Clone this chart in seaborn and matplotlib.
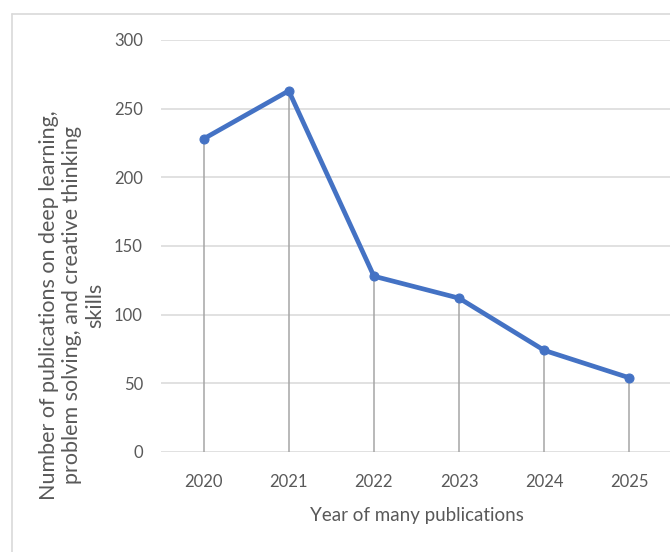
import matplotlib
matplotlib.use("Agg")
import matplotlib.pyplot as plt
from matplotlib.lines import Line2D
import seaborn as sns
import pandas as pd

years = ["2020", "2021", "2022", "2023", "2024", "2025"]
publications = [228, 263, 128, 112, 74, 54]
y_ticks = [0, 50, 100, 150, 200, 250, 300]

sns.set_theme(style="white")
plt.rcParams["font.family"] = ["Lato", "DejaVu Sans"]

W, H = 670, 552
fig = plt.figure(figsize=(W / 100, H / 100), dpi=100)
fig.patch.set_facecolor("white")

left, right, top, bottom = 161, 672, 40, 452
ax = fig.add_axes([left / W, (H - bottom) / H, (right - left) / W, (bottom - top) / H])

df = pd.DataFrame({"pos": range(len(years)), "year": years, "pubs": publications})

ax.vlines(df["pos"], 0, df["pubs"], color="#a6a6a6", lw=1.1, zorder=2)
sns.lineplot(data=df, x="pos", y="pubs", ax=ax, color="#4472C4", lw=3.4,
             marker="o", markersize=6.5, markeredgecolor="#4472C4",
             markerfacecolor="#4472C4", zorder=3)

ax.set_xlim(-0.5, len(years) - 0.5)
ax.set_ylim(0, 300)
ax.set_yticks(y_ticks)
ax.set_yticklabels([str(v) for v in y_ticks])
ax.set_xticks(df["pos"])
ax.set_xticklabels(years)
ax.yaxis.grid(True, color="#d9d9d9", lw=1.1)
ax.set_axisbelow(True)
for s in ax.spines.values():
    s.set_visible(False)
ax.tick_params(axis="both", length=0, labelsize=12, labelcolor="#595959")
ax.tick_params(axis="y", pad=13)
ax.tick_params(axis="x", pad=16)

ax.set_xlabel("Year of many publications", fontsize=13.5, color="#595959", labelpad=12)
ax.set_ylabel("")
fig.text(72 / W, 1 - 305 / H,
         "Number of publications on deep learning,\nproblem solving, and creative thinking\nskills",
         rotation=90, ha="center", va="center", fontsize=15.5, color="#595959",
         multialignment="center", linespacing=1.2)

# chart border (left and top)
fig.add_artist(Line2D([12 / W, 12 / W], [0, 1 - 14 / H], color="#d9d9d9", lw=1.2,
                      transform=fig.transFigure))
fig.add_artist(Line2D([12 / W, 1], [1 - 14 / H, 1 - 14 / H], color="#d9d9d9", lw=1.2,
                      transform=fig.transFigure))

fig.savefig("out.png", dpi=100)
